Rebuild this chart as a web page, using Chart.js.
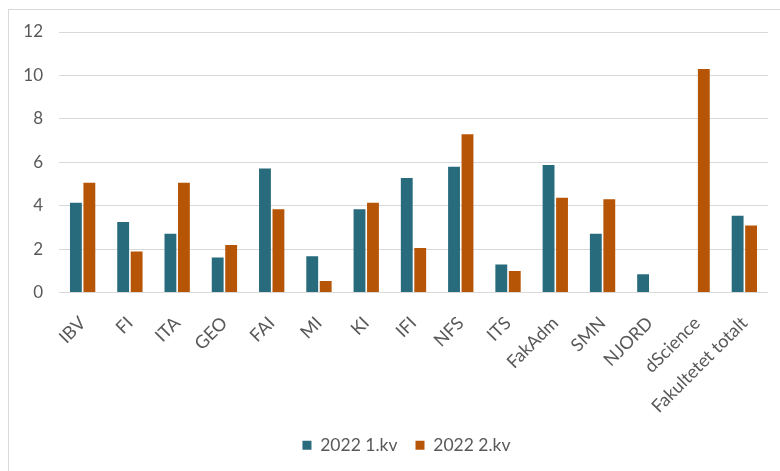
<!DOCTYPE html>
<html>
<head>
<meta charset="utf-8">
<script src="https://cdn.jsdelivr.net/npm/chart.js@4.4.0/dist/chart.umd.min.js"></script>
<style>
  html, body { margin: 0; padding: 0; background: #ffffff; }
  #wrap { position: relative; width: 780px; height: 471px; }
  #frame { position: absolute; left: 8px; top: 9px; right: 0; bottom: 0;
           border-left: 1px solid #d9d9d9; border-top: 1px solid #d9d9d9; }
  canvas { position: absolute; left: 0; top: 0; }
</style>
</head>
<body>
<div id="wrap">
  <div id="frame"></div>
  <canvas id="c" width="780" height="471"></canvas>
</div>
<script>
const categories = ["IBV", "FI", "ITA", "GEO", "FAI", "MI", "KI", "IFI", "NFS", "ITS", "FakAdm", "SMN", "NJORD", "dScience", "Fakultetet totalt"];
const series1Name = "2022 1.kv";
const series2Name = "2022 2.kv";
const series1 = [4.14, 3.25, 2.71, 1.61, 5.71, 1.67, 3.84, 5.27, 5.79, 1.29, 5.87, 2.71, 0.84, null, 3.54];
const series2 = [5.06, 1.89, 5.06, 2.19, 3.84, 0.53, 4.14, 2.05, 7.29, 0.99, 4.37, 4.30, null, 10.30, 3.09];
const yTicks = [0, 2, 4, 6, 8, 10, 12];

const FONT = "Lato";
const legendShift = {
  id: "legendShift",
  afterLayout(chart) {
    if (chart.legend) { chart.legend.left -= 7; chart.legend.right -= 7; }
  }
};
new Chart(document.getElementById("c"), {
  type: "bar",
  data: {
    labels: categories,
    datasets: [
      { label: series1Name, data: series1, backgroundColor: "#276b7c", borderWidth: 0,
        categoryPercentage: 0.57, barPercentage: 0.88 },
      { label: series2Name, data: series2, backgroundColor: "#b75506", borderWidth: 0,
        categoryPercentage: 0.57, barPercentage: 0.88 }
    ]
  },
  plugins: [legendShift],
  options: {
    responsive: false,
    animation: false,
    devicePixelRatio: 1,
    layout: { padding: { top: 32, right: 11, left: 0, bottom: 7 } },
    plugins: {
      legend: {
        position: "bottom",
        fullSize: false,
        labels: {
          boxWidth: 9, boxHeight: 9, padding: 18,
          color: "#595959",
          font: { family: FONT, size: 17.5 }
        }
      },
      tooltip: { enabled: false }
    },
    scales: {
      x: {
        grid: { display: false, drawTicks: false },
        border: { display: false },
        ticks: {
          minRotation: 45, maxRotation: 45, autoSkip: false,
          color: "#595959", padding: 20,
          font: { family: FONT, size: 18 }
        },
        afterFit(scale) { scale.height = 126; }
      },
      y: {
        min: 0, max: 12,
        afterBuildTicks(scale) { scale.ticks = yTicks.map(v => ({ value: v })); },
        grid: { color: "#d9d9d9", lineWidth: 1, drawTicks: false },
        border: { display: false },
        ticks: {
          color: "#595959", padding: 16,
          font: { family: FONT, size: 17 }
        },
        afterFit(scale) { scale.width = 59; }
      }
    }
  }
});
</script>
</body>
</html>
